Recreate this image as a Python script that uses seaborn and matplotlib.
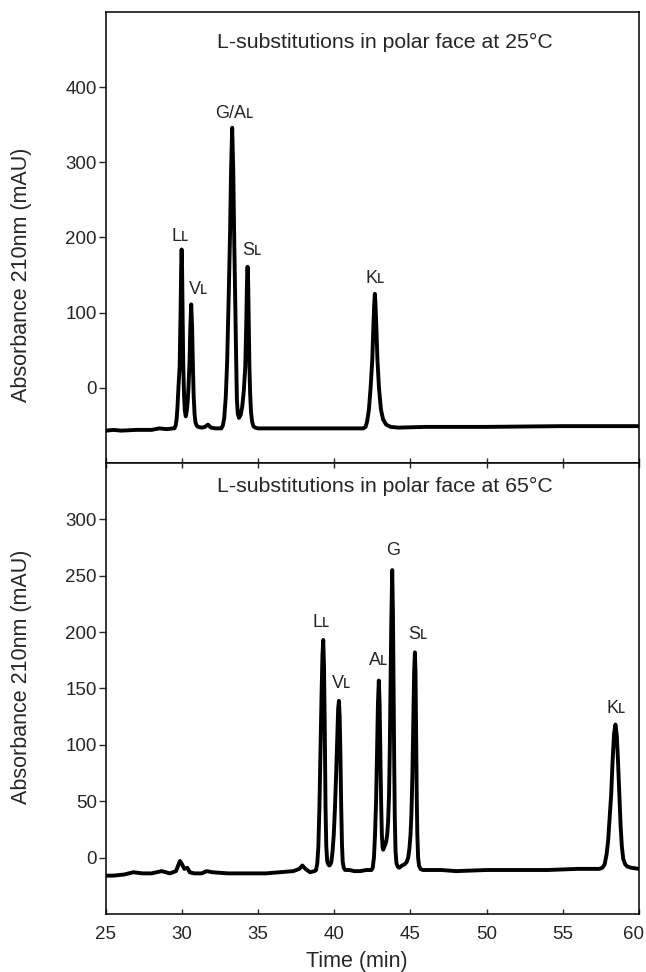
"""Two-panel RP-HPLC chromatogram: L-substitutions in the polar face at 25 and 65 C."""

import matplotlib
matplotlib.use("Agg")
import matplotlib.pyplot as plt
from matplotlib.transforms import ScaledTranslation
import pandas as pd
import seaborn as sns

# ---- data (time in min, absorbance in mAU) ----
top_time = [
    25.0, 25.5, 26.0, 27.0, 28.0, 28.5, 29.0, 29.4,
    29.50, 29.58, 29.64, 29.70, 29.76, 29.84, 29.90, 29.94, 29.97,
    30.00, 30.04, 30.08, 30.13, 30.18, 30.24,
    30.30, 30.36, 30.42, 30.49, 30.54, 30.60, 30.66, 30.71, 30.76, 30.82, 30.88, 30.95,
    31.05, 31.3, 31.5, 31.7, 31.9, 32.2, 32.45,
    32.58, 32.68, 32.77, 32.87, 32.96, 33.06, 33.15, 33.22, 33.29,
    33.36, 33.43, 33.49, 33.55, 33.60, 33.66, 33.74,
    33.85, 33.95, 34.05, 34.15, 34.22, 34.26, 34.30,
    34.34, 34.38, 34.42, 34.47, 34.53, 34.60, 34.68, 34.80,
    35.0, 36.0, 38.0, 40.0, 41.5,
    41.90, 42.05, 42.15, 42.27, 42.38, 42.49, 42.56, 42.62, 42.66,
    42.70, 42.76, 42.83, 42.93, 43.06, 43.20, 43.40, 43.70, 44.2,
    46.0, 50.0, 55.0, 60.0,
]
top_abs = [
    -57, -56, -57, -56, -56, -54, -55, -54,
    -54, -50, -42, -25, 0, 28, 100, 160, 184,
    160, 90, 28, -10, -30, -38,
    -32, -20, 0, 35, 80, 111, 80, 30, -10, -35, -46, -50,
    -52, -53, -52, -49, -53, -54, -54,
    -54, -50, -40, -12, 35, 120, 205, 292, 346,
    290, 190, 116, 40, -16, -35, -40,
    -36, -25, -5, 28, 90, 140, 161,
    140, 85, 30, -8, -33, -45, -51, -53,
    -54, -54, -54, -54, -54,
    -54, -52, -45, -29, 0, 37, 80, 112, 125,
    112, 80, 37, 0, -29, -42, -49, -52, -53,
    -52, -52, -51, -51,
]

bottom_time = [
    25.0, 25.5, 26.2, 26.8, 27.4, 28.0, 28.65, 29.2, 29.6, 29.86, 30.0, 30.15,
    30.34, 30.5, 30.8, 31.3, 31.6, 32.0, 33.0, 34.5, 35.5, 36.4, 37.3, 37.7,
    37.9, 38.1, 38.4, 38.7,
    38.80, 38.88, 38.95, 39.02, 39.09, 39.16, 39.22, 39.27,
    39.32, 39.37, 39.42, 39.47, 39.53, 39.60, 39.67,
    39.74, 39.80, 39.88, 39.96, 40.04, 40.12, 40.20, 40.25, 40.30,
    40.35, 40.40, 40.45, 40.50, 40.55, 40.62, 40.70,
    41.0, 41.3, 41.7, 42.1,
    42.44, 42.52, 42.60, 42.67, 42.74, 42.80, 42.86, 42.92,
    42.97, 43.02, 43.07, 43.12, 43.17, 43.21,
    43.26, 43.33, 43.40, 43.47, 43.53, 43.59, 43.64, 43.69, 43.74, 43.80,
    43.85, 43.89, 43.93, 43.97, 44.02, 44.08, 44.16, 44.26, 44.36,
    44.45, 44.60, 44.75, 44.85, 44.93, 45.00, 45.06, 45.12, 45.18, 45.24, 45.29,
    45.33, 45.37, 45.41, 45.45, 45.50, 45.56, 45.65, 45.8,
    46.2, 47.0, 48.0, 50.0, 52.0, 54.0, 56.0, 57.4,
    57.60, 57.75, 57.88, 57.98, 58.08, 58.18, 58.27, 58.37, 58.46,
    58.55, 58.63, 58.72, 58.80, 58.88, 58.97, 59.10, 59.25, 59.5, 60.0,
]
bottom_abs = [
    -16, -16, -15, -13, -14, -14, -12, -14, -12, -3, -6, -10,
    -9, -13, -14, -14, -12, -13, -14, -14, -14, -13, -12, -10,
    -7, -10, -13, -12,
    -11, -5, 10, 45, 95, 145, 180, 193,
    170, 115, 45, 10, -3, -6, -7,
    -6, -4, 5, 20, 44, 75, 112, 132, 139,
    125, 90, 45, 12, -4, -9, -11,
    -11, -12, -12, -11,
    -11, -9, 0, 20, 50, 90, 135, 157,
    138, 95, 50, 20, 9, 7,
    9, 11, 14, 20, 32, 55, 95, 150, 210, 255,
    215, 150, 85, 35, 5, -5, -8, -9, -8,
    -7, -6, -4, 0, 8, 20, 38, 70, 120, 165, 182,
    165, 110, 55, 20, 0, -7, -10, -11,
    -11, -11, -12, -11, -11, -11, -10, -10,
    -9, -6, 3, 15, 35, 56, 85, 110, 118,
    108, 85, 55, 28, 10, -1, -6, -8, -9, -10,
]

top_labels = ["L\u029f", "V\u029f", "G/A\u029f", "S\u029f", "K\u029f"]
top_label_x = [29.86, 31.1, 33.45, 34.57, 42.7]
top_label_y = [190, 120, 354, 171, 134]

bottom_labels = ["L\u029f", "V\u029f", "A\u029f", "G", "S\u029f", "K\u029f"]
bottom_label_x = [39.16, 40.47, 42.88, 43.84, 45.45, 58.49]
bottom_label_y = [201, 147, 167, 265, 190, 125]

panel_titles = [
    "L-substitutions in polar face at 25\u00b0C",
    "L-substitutions in polar face at 65\u00b0C",
]

x_ticks = [25, 30, 35, 40, 45, 50, 55, 60]
top_yticks = [0, 100, 200, 300, 400]
bottom_yticks = [0, 50, 100, 150, 200, 250, 300]

# ---- figure ----
sns.set_style("ticks")
plt.rcParams["font.family"] = ["Liberation Sans", "DejaVu Sans"]

fig = plt.figure(figsize=(6.46, 9.72), dpi=100)
ax_top = fig.add_axes([0.164, 0.5237, 0.825, 0.464])
ax_bot = fig.add_axes([0.164, 0.0597, 0.825, 0.464])

panels = [
    (ax_top, top_time, top_abs, top_labels, top_label_x, top_label_y,
     top_yticks, (-100, 500), panel_titles[0], 460, 0.417),
    (ax_bot, bottom_time, bottom_abs, bottom_labels, bottom_label_x, bottom_label_y,
     bottom_yticks, (-50, 350), panel_titles[1], 329, 0.525),
]

for ax, t, a, labels, lx, ly, yticks, ylim, title, title_y, ylab_y in panels:
    df = pd.DataFrame({"time": t, "absorbance": a})
    sns.lineplot(data=df, x="time", y="absorbance", ax=ax, color="black",
                 linewidth=2.8, estimator=None, sort=False)
    ax.set_xlim(25, 60)
    ax.set_ylim(*ylim)
    ax.set_yticks(yticks)
    ax.set_xticks(x_ticks)

    for spine in ax.spines.values():
        spine.set_visible(True)
        spine.set_linewidth(1.1)
        spine.set_color("black")

    ax.tick_params(axis="y", direction="out", length=5, width=1.0,
                   pad=1.5, labelsize=13.5, right=False)
    ax.tick_params(axis="x", direction="in", length=3.5, width=1.0,
                   pad=9, labelsize=13.5)

    for lab, x, y in zip(labels, lx, ly):
        ax.text(x, y, lab, ha="center", va="bottom", fontsize=13)

    ax.text(43.3, title_y, title, ha="center", va="center", fontsize=15.3)

    ax.set_ylabel("Absorbance 210nm (mAU)", fontsize=15.5)
    ax.yaxis.set_label_coords(-0.138, ylab_y)

ax_top.tick_params(axis="x", labelbottom=False, top=False)
ax_top.set_xlabel("")
ax_bot.tick_params(axis="x", top=True)
ax_bot.set_xlabel("Time (min)", fontsize=15.5)
ax_bot.xaxis.set_label_coords(0.471, -0.082)

# the last tick label sits a little inside the right figure edge
last = ax_bot.get_xticklabels()[-1]
last.set_transform(last.get_transform()
                   + ScaledTranslation(-4 / 72, 0, fig.dpi_scale_trans))

fig.savefig("out.png", dpi=100)
